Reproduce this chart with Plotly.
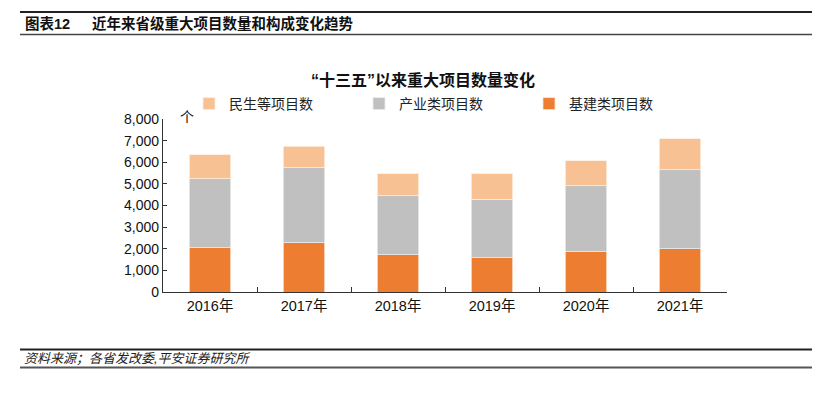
import plotly.graph_objects as go

years = ["2016年", "2017年", "2018年", "2019年", "2020年", "2021年"]
infra = [2050, 2280, 1730, 1590, 1850, 2005]      # 基建类项目数
industry = [3195, 3460, 2710, 2710, 3070, 3645]   # 产业类项目数
livelihood = [1095, 1000, 1020, 1160, 1160, 1430] # 民生等项目数
y_ticks = [0, 1000, 2000, 3000, 4000, 5000, 6000, 7000, 8000]
y_tick_text = ["0", "1,000", "2,000", "3,000", "4,000", "5,000", "6,000", "7,000", "8,000"]

FONT = "Liberation Sans, Arial, Noto Sans CJK SC, sans-serif"
CJK = "Liberation Sans, Noto Sans CJK SC, sans-serif"

fig = go.Figure()
fig.add_trace(go.Bar(x=years, y=infra, name="基建类项目数",
                     marker=dict(color="#ED7D31", line=dict(color="#FBE3D3", width=0.8))))
fig.add_trace(go.Bar(x=years, y=industry, name="产业类项目数",
                     marker=dict(color="#C0C0C0", line=dict(color="#EBEBEB", width=0.8))))
fig.add_trace(go.Bar(x=years, y=livelihood, name="民生等项目数",
                     marker=dict(color="#F8C194", line=dict(color="#FDEDE0", width=0.8))))

W, H = 832, 396
L, R, T, B = 163, 727, 119, 292

fig.update_layout(
    width=W, height=H,
    barmode="stack", bargap=0.56,
    paper_bgcolor="white", plot_bgcolor="white",
    margin=dict(l=L, r=W - R, t=T, b=H - B, pad=0, autoexpand=False),
    font=dict(family=FONT, size=13, color="#000000"),
    showlegend=True,
    legend=dict(orientation="h", traceorder="reversed",
                x=(189 - L) / (R - L), xanchor="left",
                y=1 + (T - 88) / (B - T), yanchor="top",
                entrywidth=125, entrywidthmode="pixels",
                font=dict(family=CJK, size=14, color="#222222"),
                itemwidth=30, bgcolor="rgba(0,0,0,0)", borderwidth=0,
                tracegroupgap=0),
)

fig.update_xaxes(
    showline=True, linecolor="#333333", linewidth=1.2,
    ticks="inside", tickson="boundaries", ticklen=5, tickcolor="#333333",
    tickfont=dict(family=CJK, size=14.5, color="#111111"),
    showgrid=False, mirror=False,
)
fig.update_yaxes(
    range=[0, 8000], tickvals=y_ticks, ticktext=y_tick_text,
    showline=True, linecolor="#333333", linewidth=1.2,
    ticks="inside", ticklen=4, tickcolor="#333333",
    tickfont=dict(family=FONT, size=14, color="#111111"),
    showgrid=False, zeroline=False,
)

# Title of chart
fig.add_annotation(text="<b>“十三五”以来重大项目数量变化</b>", xref="paper", yref="paper",
                   x=(423 - L) / (R - L), y=1 + (T - 80) / (B - T), xanchor="center", yanchor="middle",
                   showarrow=False, font=dict(family=CJK, size=16, color="#111111"))
# unit
fig.add_annotation(text="个", xref="paper", yref="paper",
                   x=(187 - L) / (R - L), y=1 + (T - 117) / (B - T), xanchor="center", yanchor="middle",
                   showarrow=False, font=dict(family=CJK, size=14, color="#111111"))

# Header
fig.add_annotation(text="<b>图表12</b>", xref="paper", yref="paper",
                   x=(23 - L) / (R - L), y=1 + (T - 23) / (B - T), xanchor="left", yanchor="middle",
                   showarrow=False, font=dict(family=CJK, size=14.5, color="#111111"))
fig.add_annotation(text="<b>近年来省级重大项目数量和构成变化趋势</b>", xref="paper", yref="paper",
                   x=(90 - L) / (R - L), y=1 + (T - 23) / (B - T), xanchor="left", yanchor="middle",
                   showarrow=False, font=dict(family=CJK, size=14.5, color="#111111"))
# Footer
fig.add_annotation(text="<i>资料来源；各省发改委,平安证券研究所</i>", xref="paper", yref="paper",
                   x=(22 - L) / (R - L), y=1 + (T - 358.5) / (B - T), xanchor="left", yanchor="middle",
                   showarrow=False, font=dict(family=CJK, size=13, color="#222222"))

def hline(yp, w, color):
    fig.add_shape(type="line", xref="paper", yref="paper",
                  x0=(20 - L) / (R - L), x1=(812 - L) / (R - L),
                  y0=1 + (T - yp) / (B - T), y1=1 + (T - yp) / (B - T),
                  line=dict(color=color, width=w))

hline(12, 2, "#222222")
hline(34.5, 1.5, "#444444")
hline(349.5, 2, "#222222")
hline(367.5, 2, "#555555")

fig.write_html("out.html", config={"displayModeBar": False},
               post_script="document.body.style.margin='0';")
